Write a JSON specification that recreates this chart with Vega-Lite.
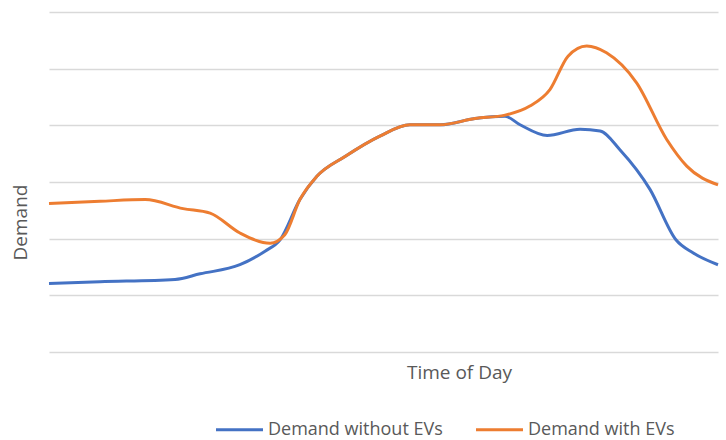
{
  "$schema": "https://vega.github.io/schema/vega-lite/v6.json",
  "width": 669,
  "height": 340,
  "autosize": {"type": "none"},
  "padding": {"left": 49, "top": 12, "right": 8, "bottom": 88},
  "background": "white",
  "config": {"view": {"stroke": null}, "font": "Open Sans"},
  "data": {"values": [
    {"hour": 0, "demand": 1.21, "series": "Demand without EVs"},
    {"hour": 1.83, "demand": 1.24, "series": "Demand without EVs"},
    {"hour": 4.52, "demand": 1.28, "series": "Demand without EVs"},
    {"hour": 5.42, "demand": 1.38, "series": "Demand without EVs"},
    {"hour": 6.85, "demand": 1.54, "series": "Demand without EVs"},
    {"hour": 7.75, "demand": 1.78, "series": "Demand without EVs"},
    {"hour": 8.29, "demand": 1.98, "series": "Demand without EVs"},
    {"hour": 9.0, "demand": 2.69, "series": "Demand without EVs"},
    {"hour": 9.61, "demand": 3.1, "series": "Demand without EVs"},
    {"hour": 10.62, "demand": 3.45, "series": "Demand without EVs"},
    {"hour": 11.87, "demand": 3.81, "series": "Demand without EVs"},
    {"hour": 12.95, "demand": 4.01, "series": "Demand without EVs"},
    {"hour": 14.03, "demand": 4.01, "series": "Demand without EVs"},
    {"hour": 15.28, "demand": 4.12, "series": "Demand without EVs"},
    {"hour": 16.36, "demand": 4.16, "series": "Demand without EVs"},
    {"hour": 16.9, "demand": 4.01, "series": "Demand without EVs"},
    {"hour": 17.87, "demand": 3.82, "series": "Demand without EVs"},
    {"hour": 19.05, "demand": 3.93, "series": "Demand without EVs"},
    {"hour": 19.77, "demand": 3.9, "series": "Demand without EVs"},
    {"hour": 20.48, "demand": 3.57, "series": "Demand without EVs"},
    {"hour": 21.56, "demand": 2.87, "series": "Demand without EVs"},
    {"hour": 22.49, "demand": 1.98, "series": "Demand without EVs"},
    {"hour": 23.1, "demand": 1.75, "series": "Demand without EVs"},
    {"hour": 24.0, "demand": 1.54, "series": "Demand without EVs"},
    {"hour": 0, "demand": 2.62, "series": "Demand with EVs"},
    {"hour": 1.83, "demand": 2.66, "series": "Demand with EVs"},
    {"hour": 3.45, "demand": 2.69, "series": "Demand with EVs"},
    {"hour": 4.81, "demand": 2.53, "series": "Demand with EVs"},
    {"hour": 5.78, "demand": 2.45, "series": "Demand with EVs"},
    {"hour": 6.85, "demand": 2.1, "series": "Demand with EVs"},
    {"hour": 7.93, "demand": 1.92, "series": "Demand with EVs"},
    {"hour": 8.46, "demand": 2.07, "series": "Demand with EVs"},
    {"hour": 9.0, "demand": 2.69, "series": "Demand with EVs"},
    {"hour": 9.61, "demand": 3.1, "series": "Demand with EVs"},
    {"hour": 10.62, "demand": 3.45, "series": "Demand with EVs"},
    {"hour": 11.87, "demand": 3.81, "series": "Demand with EVs"},
    {"hour": 12.95, "demand": 4.01, "series": "Demand with EVs"},
    {"hour": 14.03, "demand": 4.01, "series": "Demand with EVs"},
    {"hour": 15.28, "demand": 4.12, "series": "Demand with EVs"},
    {"hour": 16.36, "demand": 4.18, "series": "Demand with EVs"},
    {"hour": 17.25, "demand": 4.34, "series": "Demand with EVs"},
    {"hour": 17.97, "demand": 4.63, "series": "Demand with EVs"},
    {"hour": 18.62, "demand": 5.22, "series": "Demand with EVs"},
    {"hour": 19.29, "demand": 5.4, "series": "Demand with EVs"},
    {"hour": 20.0, "demand": 5.28, "series": "Demand with EVs"},
    {"hour": 21.08, "demand": 4.75, "series": "Demand with EVs"},
    {"hour": 22.16, "demand": 3.75, "series": "Demand with EVs"},
    {"hour": 22.88, "demand": 3.28, "series": "Demand with EVs"},
    {"hour": 24.0, "demand": 2.95, "series": "Demand with EVs"}
  ]},
  "mark": {"type": "line", "interpolate": "monotone", "strokeWidth": 3},
  "encoding": {
    "x": {
      "field": "hour", "type": "quantitative",
      "scale": {"domain": [0, 24], "nice": false},
      "axis": {
        "title": "Time of Day", "domain": false, "ticks": false, "labels": false, "grid": false,
        "titleFontSize": 19, "titleFontWeight": "normal", "titleColor": "#595959",
        "titleX": 410, "titleY": 20, "titleAlign": "center", "titleBaseline": "middle"
      }
    },
    "y": {
      "field": "demand", "type": "quantitative",
      "scale": {"domain": [0, 6], "nice": false},
      "axis": {
        "title": "Demand", "domain": false, "ticks": false, "labels": false,
        "values": [0, 1, 2, 3, 4, 5, 6],
        "grid": true, "gridColor": "#d9d9d9", "gridWidth": 1.5,
        "titleFontSize": 19, "titleFontWeight": "normal", "titleColor": "#595959",
        "titleX": -29, "titleY": 210, "titleAngle": -90, "titleAlign": "center", "titleBaseline": "middle"
      }
    },
    "color": {
      "field": "series", "type": "nominal",
      "scale": {"domain": ["Demand without EVs", "Demand with EVs"], "range": ["#4472C4", "#ED7D31"]},
      "legend": {
        "title": null, "orient": "none", "direction": "horizontal",
        "legendX": 177, "legendY": 404,
        "symbolType": "M-2,0H2", "symbolSize": 552, "symbolStrokeWidth": 3,
        "labelFontSize": 18, "labelColor": "#595959", "labelOffset": 15, "labelLimit": 300,
        "columnPadding": 27
      }
    },
    "order": {"field": "hour", "type": "quantitative"}
  }
}
